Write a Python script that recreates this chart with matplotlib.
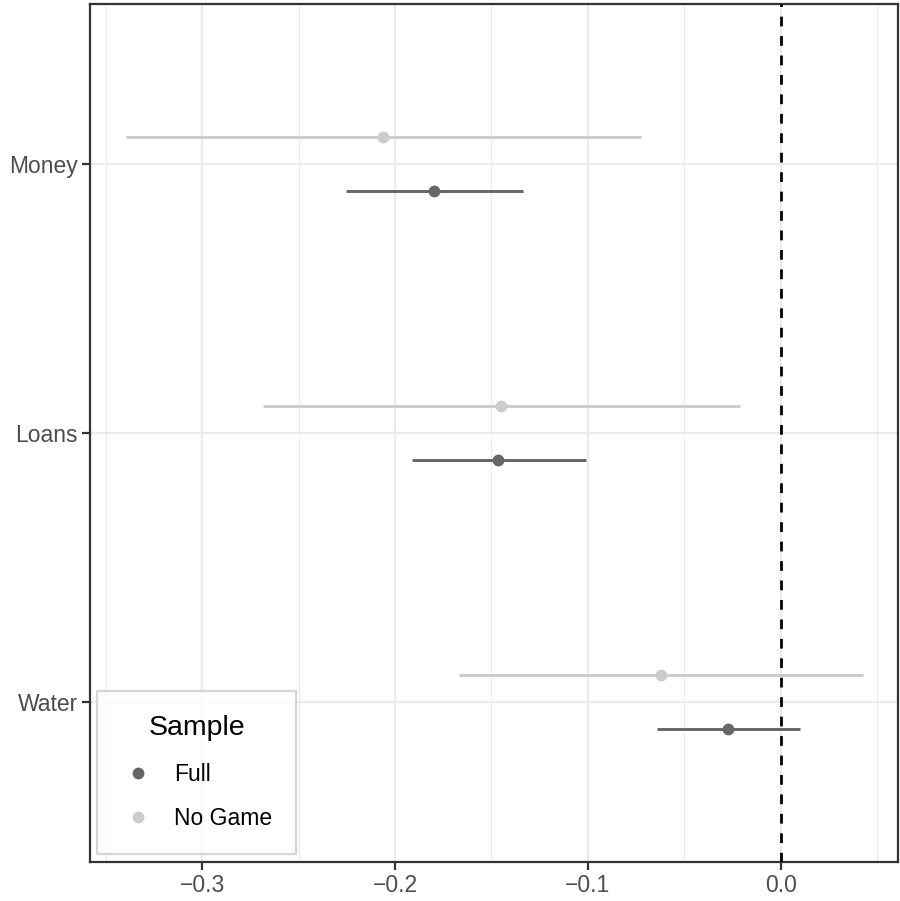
import matplotlib
matplotlib.use("Agg")
import matplotlib.pyplot as plt
from matplotlib.lines import Line2D
import numpy as np

plt.rcParams["font.family"] = ["Liberation Sans", "DejaVu Sans"]

# 数据：各结果变量在两种样本下的估计值与置信区间
outcomes = ["Water", "Loans", "Money"]
samples = ["Full", "No Game"]
full_est = [-0.0271, -0.1465, -0.1798]
full_lo = [-0.0643, -0.1914, -0.2254]
full_hi = [0.0100, -0.1011, -0.1337]
nogame_est = [-0.0620, -0.1450, -0.2062]
nogame_lo = [-0.1666, -0.2685, -0.3397]
nogame_hi = [0.0429, -0.0213, -0.0726]

colors = {"Full": "#666666", "No Game": "#cccccc"}
offsets = {"Full": -0.1, "No Game": 0.1}
series = {
    "Full": (full_est, full_lo, full_hi),
    "No Game": (nogame_est, nogame_lo, nogame_hi),
}

fig = plt.figure(figsize=(9, 9.01), dpi=100)
ax = fig.add_axes([89.5 / 900, 39 / 901, (898 - 89.5) / 900, (862 - 4) / 901])

y_base = np.arange(1, len(outcomes) + 1)

# 网格线
ax.set_axisbelow(True)
ax.set_xticks([-0.3, -0.2, -0.1, 0.0])
ax.set_xticks([-0.35, -0.25, -0.15, -0.05, 0.05], minor=True)
ax.set_yticks(y_base)
ax.set_yticklabels(outcomes)
ax.grid(which="major", color="#ebebeb", lw=1.6)
ax.grid(which="minor", axis="x", color="#ebebeb", lw=0.8)

for s in samples:
    est, lo, hi = series[s]
    y = y_base + offsets[s]
    ax.hlines(y, lo, hi, color=colors[s], lw=2.1, zorder=3)
    ax.plot(est, y, "o", color=colors[s], ms=7.5, zorder=4)

ax.axvline(0, color="black", lw=2.0, ls=(0, (3.5, 3.5)), zorder=5)

ax.set_xlim(-0.3585, 0.0609)
ax.set_ylim(0.406, 3.596)

for sp in ax.spines.values():
    sp.set_color("#333333")
    sp.set_linewidth(1.6)

ax.tick_params(axis="both", which="major", length=5.5, width=1.6, color="#333333",
               labelsize=16.5, labelcolor="#4d4d4d", pad=3)
ax.tick_params(axis="both", which="minor", length=0)

handles = [Line2D([], [], ls="none", marker="o", ms=7.5, color=colors[s]) for s in samples]
leg = ax.legend(handles, samples, title="Sample", loc="lower left",
                bbox_to_anchor=(0.0093, 0.0093), borderaxespad=0,
                frameon=True, fancybox=False,
                fontsize=16.5, title_fontsize=20.5, handletextpad=0.8,
                labelspacing=0.9, borderpad=1.05, handlelength=1.5)
leg.get_frame().set_edgecolor("#cccccc")
leg.get_frame().set_linewidth(1.6)
leg._legend_box.sep = 16

fig.savefig("out.png", dpi=100)
